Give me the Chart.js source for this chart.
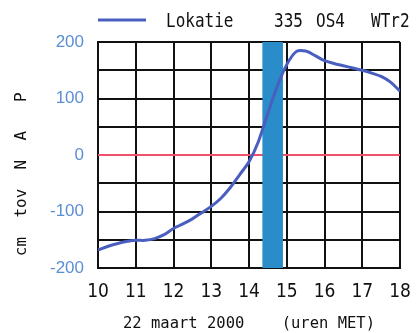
<!DOCTYPE html>
<html>
<head>
<meta charset="utf-8">
<script src="https://cdn.jsdelivr.net/npm/chart.js@4"></script>
<style>
  html, body { margin: 0; padding: 0; background: #fff; }
  #wrap { width: 416px; height: 333px; }
</style>
</head>
<body>
<div id="wrap"><canvas id="chart" width="416" height="333"></canvas></div>
<script>
  // uren MET, 22 maart 2000
  const HOURS = [10, 10.25, 10.5, 10.75, 11, 11.25, 11.5, 11.75, 12, 12.25, 12.5, 12.75,
    13, 13.25, 13.5, 13.75, 14, 14.25, 14.5, 14.75, 15, 15.25, 15.5, 15.75,
    16, 16.25, 16.5, 16.75, 17, 17.25, 17.5, 17.75, 18];
  // waterstand cm t.o.v. NAP
  const LEVELS = [-168, -162, -157, -153, -151, -151, -148, -141, -130, -122, -113, -102,
    -91, -77, -58, -35, -12, 24, 74, 122, 160, 183, 184, 176,
    167, 162, 158, 154, 150, 145, 139, 129, 113];
  const BAND_HOURS = [14.35, 14.9];
  const X_RANGE = [10, 18];
  const Y_RANGE = [-200, 200];
  const HEADER = ["Lokatie", "335", "OS4", "WTr2"];

  const LINE_BLUE = "#4a5ec0";
  const BAND_BLUE = "#2a8dca";
  const ZERO_RED = "#f0506a";
  const TICK_BLUE = "#5b8fd4";
  const MONO = "'DejaVu Sans Mono', monospace";

  // header line: legend sample + station text, narrow plotter-like lettering
  const headerPlugin = {
    id: "header",
    afterDraw(chart) {
      const ctx = chart.ctx;
      ctx.save();
      ctx.strokeStyle = LINE_BLUE;
      ctx.lineWidth = 3;
      ctx.beginPath();
      ctx.moveTo(98, 20);
      ctx.lineTo(146, 20);
      ctx.stroke();
      ctx.fillStyle = "#111";
      ctx.font = "20px " + MONO;
      ctx.textBaseline = "middle";
      const sx = 0.8;
      ctx.scale(sx, 1);
      ctx.fillText(HEADER[0], 166 / sx, 22);
      ctx.fillText(HEADER[1], 274 / sx, 22);
      ctx.fillText(HEADER[2], 316 / sx, 22);
      ctx.fillText(HEADER[3], 371 / sx, 22);
      ctx.restore();
    },
  };

  new Chart(document.getElementById("chart"), {
    type: "line",
    data: {
      datasets: [
        {
          label: "Lokatie",
          data: HOURS.map((h, i) => ({ x: h, y: LEVELS[i] })),
          borderColor: LINE_BLUE,
          borderWidth: 3,
          pointRadius: 0,
          tension: 0.3,
          order: 1,
        },
        {
          label: "band",
          data: BAND_HOURS.map((h) => ({ x: h, y: Y_RANGE[1] })),
          borderWidth: 0,
          pointRadius: 0,
          backgroundColor: BAND_BLUE,
          fill: { value: Y_RANGE[0] },
          order: 2,
        },
        {
          label: "nul",
          data: X_RANGE.map((h) => ({ x: h, y: 0 })),
          borderColor: ZERO_RED,
          borderWidth: 2,
          pointRadius: 0,
          order: 3,
        },
      ],
    },
    options: {
      responsive: false,
      animation: false,
      layout: { padding: { top: 42, right: 16, left: 0, bottom: 0 } },
      plugins: { legend: { display: false }, tooltip: { enabled: false } },
      scales: {
        x: {
          type: "linear",
          min: X_RANGE[0],
          max: X_RANGE[1],
          ticks: {
            stepSize: 1,
            color: "#111",
            padding: 13,
            font: { family: "'DejaVu Sans Condensed', 'Liberation Sans', sans-serif", size: 19 },
          },
          grid: { color: "#111", lineWidth: 2, drawTicks: false },
          border: { color: "#111", width: 2 },
          title: {
            display: true,
            text: "22 maart 2000    (uren MET)",
            color: "#111",
            font: { family: MONO, size: 15.5 },
            padding: { top: 0, bottom: 0 },
          },
          afterFit: (s) => {
            s.height = 65;
            s.paddingRight = 0;
            s.paddingLeft = 0;
          },
        },
        y: {
          min: Y_RANGE[0],
          max: Y_RANGE[1],
          ticks: {
            stepSize: 50,
            color: TICK_BLUE,
            padding: 14,
            font: { family: "'Liberation Sans', sans-serif", size: 17 },
            callback: (v) => (v % 100 === 0 ? String(v) : ""),
          },
          grid: { color: "#111", lineWidth: 2, drawTicks: false },
          border: { color: "#111", width: 2 },
          title: {
            display: true,
            text: "cm  tov  N  A   P    ",
            color: "#111",
            font: { family: MONO, size: 16 },
            padding: { top: 12, bottom: 0 },
          },
          afterFit: (s) => { s.width = 98; },
        },
      },
    },
    plugins: [headerPlugin],
  });
</script>
</body>
</html>
